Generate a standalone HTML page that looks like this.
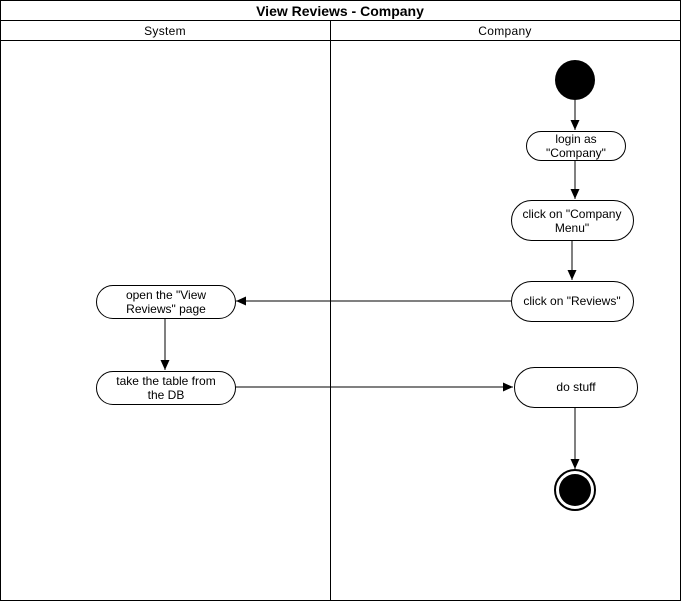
<!DOCTYPE html>
<html><head><style>body{margin:0;background:#fff}svg{display:block}</style></head><body>
<svg width="681" height="601" viewBox="0 0 681 601" xmlns="http://www.w3.org/2000/svg" font-family="'Liberation Sans', sans-serif" font-size="12">
<defs><marker id="a" markerWidth="12" markerHeight="12" refX="10" refY="6" orient="auto" markerUnits="userSpaceOnUse"><path d="M0,1.5 L10,6 L0,10.5 Z" fill="#000"/></marker></defs>
<rect x="0.5" y="0.5" width="680" height="600" fill="#fff" stroke="#000"/>
<line x1="0" y1="20.5" x2="681" y2="20.5" stroke="#000"/>
<line x1="0" y1="40.5" x2="681" y2="40.5" stroke="#000"/>
<line x1="330.5" y1="20" x2="330.5" y2="601" stroke="#000"/>
<text x="340" y="16" text-anchor="middle" font-weight="bold" font-size="14">View Reviews  - Company</text>
<text x="165" y="35" text-anchor="middle" font-size="12" letter-spacing="0.3">System</text>
<text x="505" y="35" text-anchor="middle" font-size="12" letter-spacing="0.3">Company</text>
<g fill="none" stroke="#000">
<line x1="575" y1="100" x2="575" y2="130" marker-end="url(#a)"/>
<line x1="575" y1="160" x2="575" y2="199" marker-end="url(#a)"/>
<line x1="572" y1="240" x2="572" y2="280" marker-end="url(#a)"/>
<line x1="511" y1="301" x2="236" y2="301" marker-end="url(#a)"/>
<line x1="165" y1="318" x2="165" y2="370" marker-end="url(#a)"/>
<line x1="235" y1="387" x2="513" y2="387" marker-end="url(#a)"/>
<line x1="575" y1="407" x2="575" y2="469" marker-end="url(#a)"/>
<rect x="526.5" y="131.5" width="99" height="29" rx="14.5"/>
<rect x="511.5" y="200.5" width="122" height="40" rx="20"/>
<rect x="511.5" y="281.5" width="122" height="40" rx="20"/>
<rect x="96.5" y="285.5" width="139" height="33" rx="16.5"/>
<rect x="96.5" y="371.5" width="139" height="33" rx="16.5"/>
<rect x="514.5" y="367.5" width="123" height="40" rx="20"/>
<circle cx="575" cy="490" r="20" stroke-width="2"/>
</g>
<circle cx="575" cy="80" r="20" fill="#000"/>
<circle cx="575" cy="490" r="16" fill="#000"/>
<g text-anchor="middle">
<text x="576" y="143">login as</text><text x="576" y="157">"Company"</text>
<text x="572" y="218">click on "Company</text><text x="572" y="232">Menu"</text>
<text x="572" y="305">click on "Reviews"</text>
<text x="166" y="299">open the "View</text><text x="166" y="313">Reviews" page</text>
<text x="166" y="385">take the table from</text><text x="166" y="399">the DB</text>
<text x="576" y="391">do stuff</text>
</g>
</svg>
</body></html>
